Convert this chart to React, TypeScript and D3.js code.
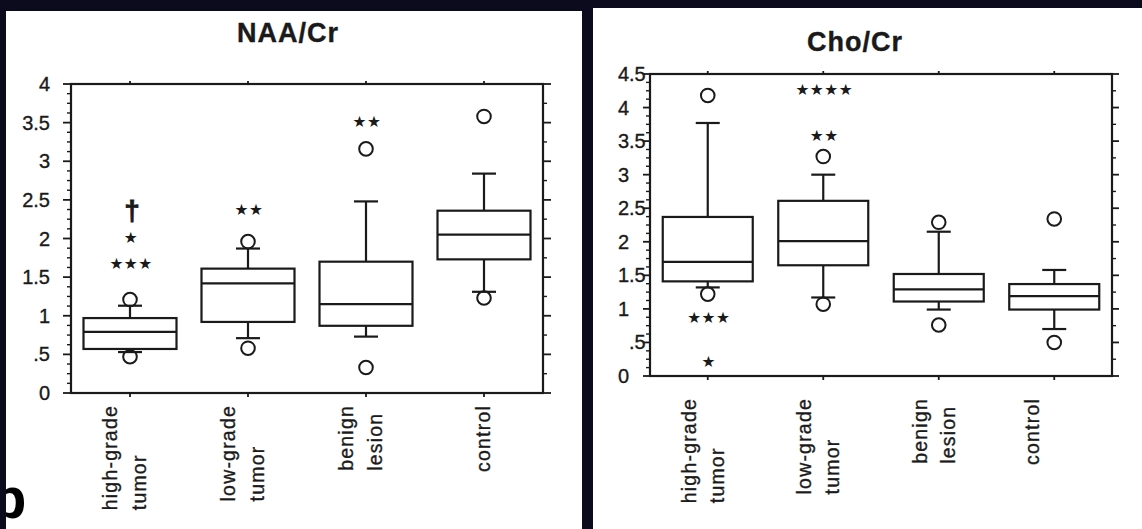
import React, { useEffect, useRef } from 'react';
import * as d3 from 'd3';

// ---------- data ----------
const categories = ['high-grade tumor', 'low-grade tumor', 'benign lesion', 'control'];
const categoryLines = [['high-grade', 'tumor'], ['low-grade', 'tumor'], ['benign', 'lesion'], ['control']];

const naaTitle = 'NAA/Cr';
const naaTickLabels = ['0', '.5', '1', '1.5', '2', '2.5', '3', '3.5', '4'];
const naaLowerWhisker = [0.53, 0.71, 0.73, 1.31];
const naaQ1 = [0.57, 0.92, 0.87, 1.73];
const naaMedian = [0.79, 1.42, 1.15, 2.05];
const naaQ3 = [0.97, 1.61, 1.7, 2.36];
const naaUpperWhisker = [1.13, 1.87, 2.48, 2.84];
const naaOutliers = [[0.47, 1.21], [0.58, 1.96], [0.33, 3.16], [1.23, 3.58]];
const naaMarkCategory = [0, 0, 0, 1, 2];
const naaMarkText = ['†', '★', '★★★', '★★', '★★'];
const naaMarkValue = [2.37, 2.01, 1.68, 2.37, 3.52];

const choTitle = 'Cho/Cr';
const choTickLabels = ['0', '.5', '1', '1.5', '2', '2.5', '3', '3.5', '4', '4.5'];
const choLowerWhisker = [1.32, 1.17, 0.99, 0.7];
const choQ1 = [1.41, 1.65, 1.11, 0.99];
const choMedian = [1.7, 2.01, 1.29, 1.19];
const choQ3 = [2.37, 2.61, 1.52, 1.37];
const choUpperWhisker = [3.77, 3.0, 2.15, 1.58];
const choOutliers = [[1.22, 4.18], [1.07, 3.27], [0.76, 2.29], [0.5, 2.34]];
const choMarkCategory = [0, 0, 1, 1];
const choMarkText = ['★★★', '★', '★★★★', '★★'];
const choMarkValue = [0.88, 0.21, 4.27, 3.59];

const panelLetter = 'b';

// ---------- styling / layout ----------
const W = 1142;
const H = 529;
const SANS = '"Liberation Sans", Arial, Helvetica, sans-serif';
const STAR_FONT = '"DejaVu Sans", sans-serif';
const INK = '#1a1a1a';
const BG = '#0b0b1d';

type Spec = {
  title: string;
  tickLabels: string[];
  lo: number[];
  q1: number[];
  med: number[];
  q3: number[];
  hi: number[];
  outliers: number[][];
  markCat: number[];
  markText: string[];
  markValue: number[];
};

type Layout = {
  left: number;
  right: number;
  top: number;
  bottom: number;
  titleX: number;
  titleY: number;
  boxWidth: number;
  capWidth: number;
  labelGap: number;
  lineOffsets: number[];
  singleOffset: number;
  decimalAlign: boolean;
  majorLen: number;
  leftMinorStep: number;
  rightMinorStep: number;
};

function drawChart(root: any, s: Spec, L: Layout) {
  const yMax = d3.max(s.tickLabels, (t) => +t) as number;
  const y = d3.scaleLinear().domain([0, yMax]).range([L.bottom, L.top]);
  const x = d3.scaleBand<string>().domain(categories).range([L.left, L.right]);
  const cx = (i: number) => (x(categories[i]) as number) + x.bandwidth() / 2;
  const g = root.append('g');

  // title
  g.append('text')
    .attr('x', L.titleX)
    .attr('y', L.titleY)
    .attr('text-anchor', 'middle')
    .attr('font-family', SANS)
    .attr('font-weight', 'bold')
    .attr('font-size', 27)
    .attr('letter-spacing', 1)
    .attr('fill', INK)
    .attr('stroke', INK)
    .attr('stroke-width', 0.4)
    .text(s.title);

  // ticks
  const majors = s.tickLabels.map((t) => +t);
  const isMajor = (v: number) => majors.some((m) => Math.abs(m - v) < 1e-6);
  const leftMinor = d3.range(0, yMax + 1e-6, L.leftMinorStep).filter((v) => !isMajor(v));
  const rightMinor = d3.range(0, yMax + 1e-6, L.rightMinorStep).filter((v) => !isMajor(v));
  const tk = g.append('g').attr('stroke', INK).attr('stroke-width', 1.8);
  majors.forEach((v) => {
    tk.append('line').attr('x1', L.left - L.majorLen).attr('x2', L.left).attr('y1', y(v)).attr('y2', y(v));
    tk.append('line').attr('x1', L.right).attr('x2', L.right + L.majorLen).attr('y1', y(v)).attr('y2', y(v));
  });
  leftMinor.forEach((v) => {
    tk.append('line').attr('x1', L.left - 4).attr('x2', L.left).attr('y1', y(v)).attr('y2', y(v)).attr('stroke-width', 1.4);
  });
  rightMinor.forEach((v) => {
    tk.append('line').attr('x1', L.right).attr('x2', L.right + 4).attr('y1', y(v)).attr('y2', y(v)).attr('stroke-width', 1.4);
  });
  categories.forEach((_, i) => {
    tk.append('line').attr('x1', cx(i)).attr('x2', cx(i)).attr('y1', L.top - 3).attr('y2', L.top);
    tk.append('line').attr('x1', cx(i)).attr('x2', cx(i)).attr('y1', L.bottom).attr('y2', L.bottom + 4);
  });

  // frame
  g.append('rect')
    .attr('x', L.left)
    .attr('y', L.top)
    .attr('width', L.right - L.left)
    .attr('height', L.bottom - L.top)
    .attr('fill', 'none')
    .attr('stroke', INK)
    .attr('stroke-width', 2.2);

  // y tick labels
  const decX = L.left - 21;
  s.tickLabels.forEach((lab) => {
    const v = +lab;
    const t = g
      .append('text')
      .attr('y', y(v) + 7)
      .attr('font-family', SANS)
      .attr('font-size', 20)
      .attr('fill', INK)
      .attr('stroke', INK)
      .attr('stroke-width', 0.35);
    if (!L.decimalAlign) {
      t.attr('x', decX).attr('text-anchor', 'end').text(lab);
    } else {
      const parts = lab.split('.');
      if (parts[0]) t.append('tspan').attr('x', decX).attr('y', y(v) + 7).attr('text-anchor', 'end').text(parts[0]);
      if (parts.length > 1)
        t.append('tspan').attr('x', decX).attr('y', y(v) + 7).attr('text-anchor', 'start').text('.' + parts[1]);
    }
  });

  // boxes
  const bx = g.append('g').attr('stroke', INK).attr('stroke-width', 2.2).attr('fill', 'none');
  categories.forEach((_, i) => {
    const c = cx(i);
    const hw = L.boxWidth / 2;
    const cw = L.capWidth / 2;
    bx.append('line').attr('x1', c).attr('x2', c).attr('y1', y(s.q3[i])).attr('y2', y(s.hi[i]));
    bx.append('line').attr('x1', c).attr('x2', c).attr('y1', y(s.q1[i])).attr('y2', y(s.lo[i]));
    bx.append('line').attr('x1', c - cw).attr('x2', c + cw).attr('y1', y(s.hi[i])).attr('y2', y(s.hi[i]));
    bx.append('line').attr('x1', c - cw).attr('x2', c + cw).attr('y1', y(s.lo[i])).attr('y2', y(s.lo[i]));
    bx.append('rect')
      .attr('x', c - hw)
      .attr('y', y(s.q3[i]))
      .attr('width', L.boxWidth)
      .attr('height', y(s.q1[i]) - y(s.q3[i]))
      .attr('fill', '#fff');
    bx.append('line').attr('x1', c - hw).attr('x2', c + hw).attr('y1', y(s.med[i])).attr('y2', y(s.med[i]));
    s.outliers[i].forEach((o) => {
      bx.append('circle').attr('cx', c).attr('cy', y(o)).attr('r', 6.8).attr('stroke-width', 2);
    });
  });

  // significance marks
  s.markText.forEach((txt, k) => {
    const c = cx(s.markCat[k]);
    const v = y(s.markValue[k]);
    if (txt === '†') {
      g.append('text')
        .attr('x', c + 2)
        .attr('y', v + 10)
        .attr('text-anchor', 'middle')
        .attr('font-family', SANS)
        .attr('font-weight', 'bold')
        .attr('font-size', 28)
        .attr('fill', INK)
        .attr('stroke', INK)
        .attr('stroke-width', 0.8)
        .text(txt);
    } else {
      g.append('text')
        .attr('x', c + 1)
        .attr('y', v)
        .attr('dy', '0.36em')
        .attr('text-anchor', 'middle')
        .attr('font-family', STAR_FONT)
        .attr('font-size', 15.5)
        .attr('letter-spacing', 0.5)
        .attr('fill', INK)
        .text(txt);
    }
  });

  // category labels (rotated, start aligned)
  categories.forEach((_, i) => {
    const lines = categoryLines[i];
    const texts = lines.map((ln) =>
      g
        .append('text')
        .attr('font-family', SANS)
        .attr('font-size', 19.5)
        .attr('letter-spacing', 1.2)
        .attr('fill', INK)
        .attr('stroke', INK)
        .attr('stroke-width', 0.35)
        .attr('text-anchor', 'start')
        .text(ln)
    );
    const maxLen = d3.max(texts, (t: any) => (t.node() as SVGTextElement).getComputedTextLength()) as number;
    const startY = L.bottom + L.labelGap + maxLen;
    texts.forEach((t: any, j: number) => {
      const off = lines.length === 1 ? L.singleOffset : L.lineOffsets[j];
      t.attr('transform', `translate(${cx(i) + off},${startY}) rotate(-90)`);
    });
  });
}

export default function App() {
  const ref = useRef<SVGSVGElement>(null);

  useEffect(() => {
    const svg = d3.select(ref.current);
    svg.selectAll('*').remove();
    svg.append('rect').attr('width', W).attr('height', H).attr('fill', BG);

    const defs = svg.append('defs');
    const panels = [
      { id: 'pL', x: 6, y: 11, w: 576, h: H - 11 },
      { id: 'pR', x: 593, y: 8, w: W - 593, h: H - 8 },
    ];
    panels.forEach((p) => {
      defs.append('clipPath').attr('id', p.id).append('rect').attr('x', p.x).attr('y', p.y).attr('width', p.w).attr('height', p.h);
    });

    const left = svg.append('g').attr('clip-path', 'url(#pL)');
    left.append('rect').attr('x', 6).attr('y', 11).attr('width', 576).attr('height', H - 11).attr('fill', '#fff');
    const right = svg.append('g').attr('clip-path', 'url(#pR)');
    right.append('rect').attr('x', 593).attr('y', 8).attr('width', W - 593).attr('height', H - 8).attr('fill', '#fff');

    drawChart(
      left,
      {
        title: naaTitle,
        tickLabels: naaTickLabels,
        lo: naaLowerWhisker,
        q1: naaQ1,
        med: naaMedian,
        q3: naaQ3,
        hi: naaUpperWhisker,
        outliers: naaOutliers,
        markCat: naaMarkCategory,
        markText: naaMarkText,
        markValue: naaMarkValue,
      },
      {
        left: 71,
        right: 543,
        top: 84,
        bottom: 393,
        titleX: 288,
        titleY: 42,
        boxWidth: 93,
        capWidth: 24,
        labelGap: 12,
        lineOffsets: [-13, 16],
        singleOffset: 6,
        decimalAlign: false,
        majorLen: 8,
        leftMinorStep: 0.125,
        rightMinorStep: 0.25,
      }
    );

    drawChart(
      right,
      {
        title: choTitle,
        tickLabels: choTickLabels,
        lo: choLowerWhisker,
        q1: choQ1,
        med: choMedian,
        q3: choQ3,
        hi: choUpperWhisker,
        outliers: choOutliers,
        markCat: choMarkCategory,
        markText: choMarkText,
        markValue: choMarkValue,
      },
      {
        left: 650,
        right: 1112,
        top: 74,
        bottom: 376,
        titleX: 855,
        titleY: 51,
        boxWidth: 90,
        capWidth: 24,
        labelGap: 22,
        lineOffsets: [-12, 16],
        singleOffset: -15,
        decimalAlign: true,
        majorLen: 7,
        leftMinorStep: 0.125,
        rightMinorStep: 0.25,
      }
    );

    // panel letter, cut by the panel edge as in the source figure
    left
      .append('text')
      .attr('x', -9)
      .attr('y', 518)
      .attr('font-family', SANS)
      .attr('font-weight', 'bold')
      .attr('font-size', 58)
      .attr('fill', '#000')
      .text(panelLetter);
  }, []);

  return (
    <svg
      ref={ref}
      width={W}
      height={H}
      style={{ position: 'absolute', left: 0, top: 0, display: 'block' }}
    />
  );
}
